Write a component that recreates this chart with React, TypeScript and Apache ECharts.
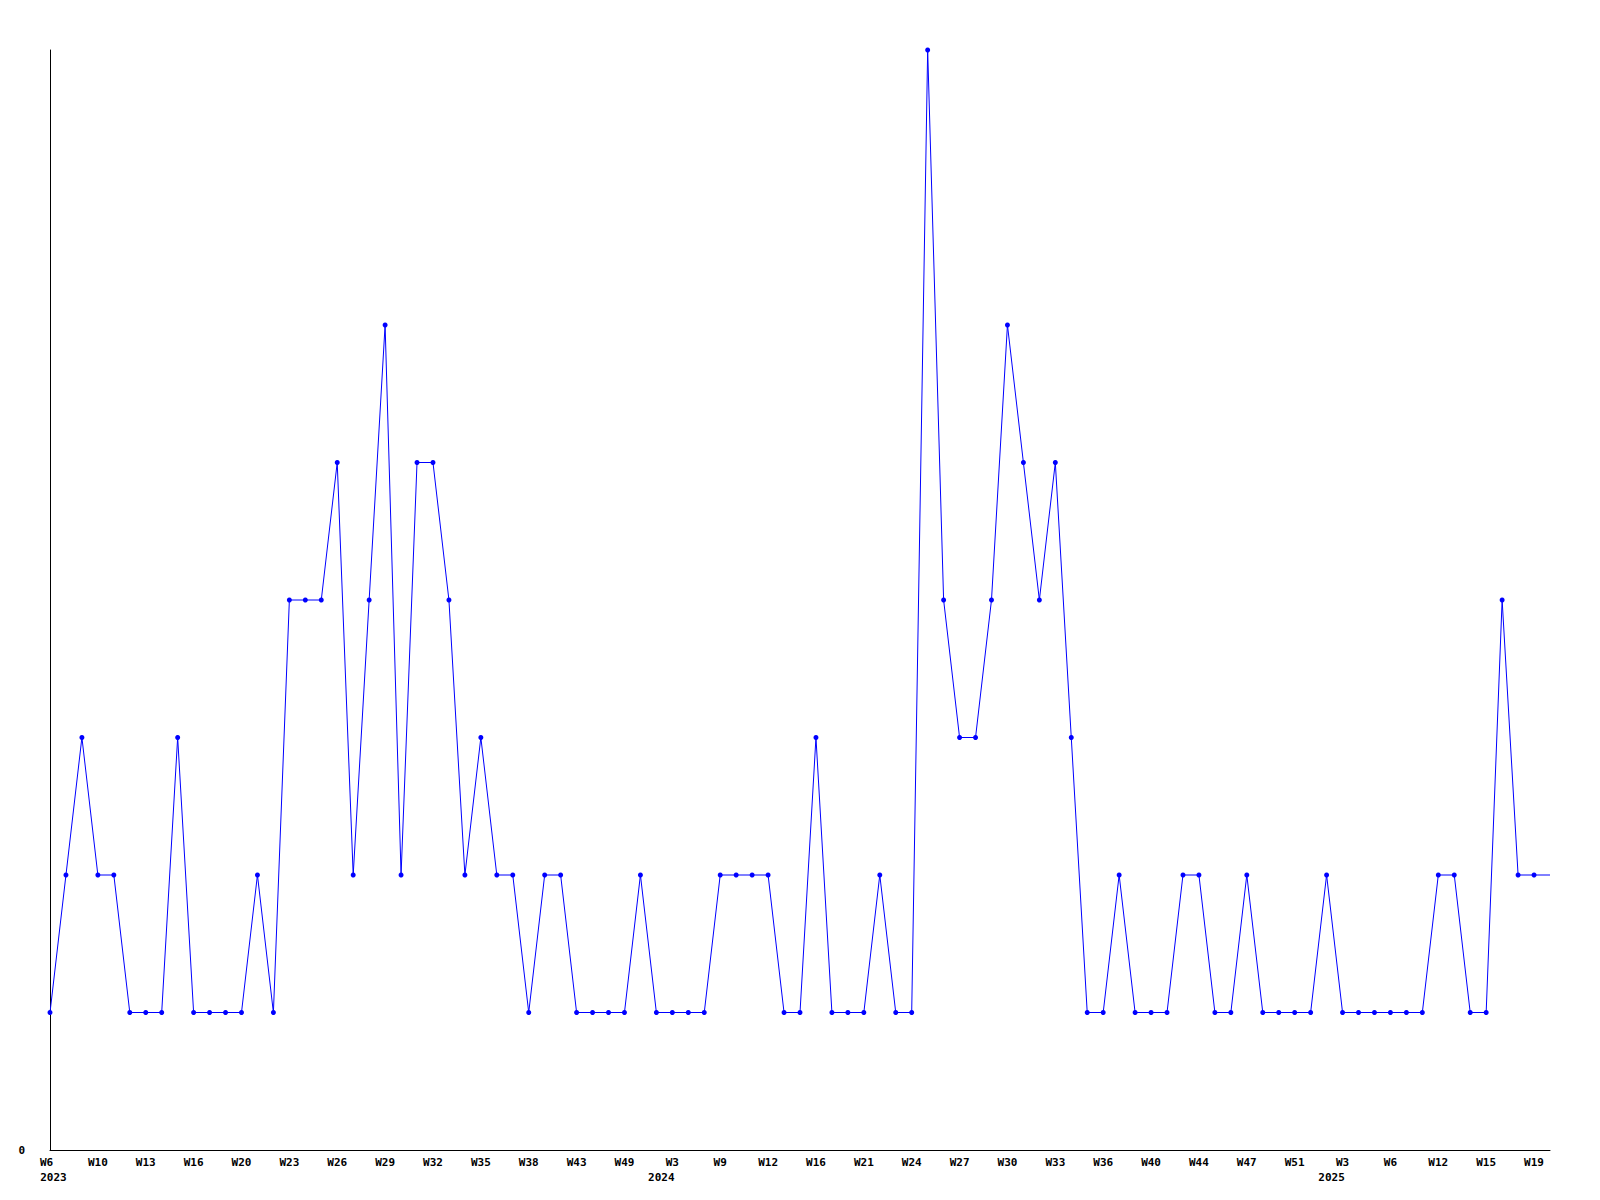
import React, { useEffect, useRef } from "react";
import * as echarts from "echarts";

// Week categories (year-week keys); only every third one is labelled on the axis
const categories: string[] = [
  "2023-W6", "2023-W7", "2023-W8", "2023-W10", "2023-W11", "2023-W12", "2023-W13", "2023-W14", "2023-W15", "2023-W16",
  "2023-W17", "2023-W18", "2023-W20", "2023-W21", "2023-W22", "2023-W23", "2023-W24", "2023-W25", "2023-W26", "2023-W27",
  "2023-W28", "2023-W29", "2023-W30", "2023-W31", "2023-W32", "2023-W33", "2023-W34", "2023-W35", "2023-W36", "2023-W37",
  "2023-W38", "2023-W40", "2023-W41", "2023-W43", "2023-W45", "2023-W47", "2023-W49", "2023-W50", "2023-W52", "2024-W3",
  "2024-W5", "2024-W7", "2024-W9", "2024-W10", "2024-W11", "2024-W12", "2024-W13", "2024-W14", "2024-W16", "2024-W18",
  "2024-W19", "2024-W21", "2024-W22", "2024-W23", "2024-W24", "2024-W25", "2024-W26", "2024-W27", "2024-W28", "2024-W29",
  "2024-W30", "2024-W31", "2024-W32", "2024-W33", "2024-W34", "2024-W35", "2024-W36", "2024-W37", "2024-W39", "2024-W40",
  "2024-W41", "2024-W43", "2024-W44", "2024-W45", "2024-W46", "2024-W47", "2024-W48", "2024-W50", "2024-W51", "2024-W52",
  "2025-W2", "2025-W3", "2025-W4", "2025-W5", "2025-W6", "2025-W8", "2025-W10", "2025-W12", "2025-W13", "2025-W14",
  "2025-W15", "2025-W17", "2025-W18", "2025-W19", "2025-W20",
];

const counts: number[] = [
  1, 2, 3, 2, 2, 1, 1, 1, 3, 1,
  1, 1, 1, 2, 1, 4, 4, 4, 5, 2,
  4, 6, 2, 5, 5, 4, 2, 3, 2, 2,
  1, 2, 2, 1, 1, 1, 1, 2, 1, 1,
  1, 1, 2, 2, 2, 2, 1, 1, 3, 1,
  1, 1, 2, 1, 1, 8, 4, 3, 3, 4,
  6, 5, 4, 5, 3, 1, 1, 2, 1, 1,
  1, 2, 2, 1, 1, 2, 1, 1, 1, 1,
  2, 1, 1, 1, 1, 1, 1, 2, 2, 1,
  1, 4, 2, 2, 2,
];

const yMin = 0;
const yMax = 8;

const FONT = "'DejaVu Sans Mono', monospace";

export default function App() {
  const ref = useRef<HTMLDivElement>(null);

  useEffect(() => {
    if (!ref.current) return;
    const chart = echarts.init(ref.current, null, { renderer: "svg" });

    const seriesData = counts.map((v, i) =>
      i === counts.length - 1 ? { value: v, symbol: "none" } : v
    );

    const base = { fontFamily: FONT, fontWeight: "bold", fontSize: 11, lineHeight: 15, color: "#000" };

    chart.setOption({
      animation: false,
      backgroundColor: "#ffffff",
      grid: { left: 50, right: 50, top: 50, bottom: 50, containLabel: false },
      xAxis: {
        type: "category",
        data: categories,
        boundaryGap: false,
        axisLine: { show: true, lineStyle: { color: "#000000", width: 1 } },
        axisTick: { show: false },
        splitLine: { show: false },
        axisLabel: {
          interval: 2,
          margin: 5,
          color: "#000000",
          fontFamily: FONT,
          fontWeight: "bold",
          fontSize: 11,
          lineHeight: 15,
          formatter: (value: string, index: number) => {
            const [year, week] = value.split("-");
            const prev = index >= 3 ? categories[index - 3].split("-")[0] : null;
            if (index === 0) return `{wf|${week}}\n{yf|${year}}`;
            if (prev !== year) return `{w|${week}}\n{ys|${year}}`;
            return `{w|${week}}`;
          },
          rich: {
            w: { ...base },
            wf: { ...base, padding: [0, 7, 0, 0] },
            yf: { ...base, padding: [0, 0, 0, 7] },
            ys: { ...base, padding: [0, 22, 0, 0] },
          },
        },
      },
      yAxis: {
        type: "value",
        min: yMin,
        max: yMax,
        interval: 8,
        axisLine: { show: true, lineStyle: { color: "#000000", width: 1 } },
        axisTick: { show: false },
        splitLine: { show: false },
        axisLabel: {
          showMaxLabel: false,
          margin: 25,
          color: "#000000",
          fontFamily: FONT,
          fontWeight: "bold",
          fontSize: 11,
        },
      },
      series: [
        {
          type: "line",
          data: seriesData,
          symbol: "circle",
          symbolSize: 5,
          showAllSymbol: true,
          lineStyle: { color: "#0000ff", width: 1 },
          itemStyle: { color: "#0000ff" },
        },
      ],
    });

    return () => chart.dispose();
  }, []);

  return (
    <div
      ref={ref}
      style={{ position: "absolute", left: 0, top: 0, width: 1600, height: 1200 }}
    />
  );
}
